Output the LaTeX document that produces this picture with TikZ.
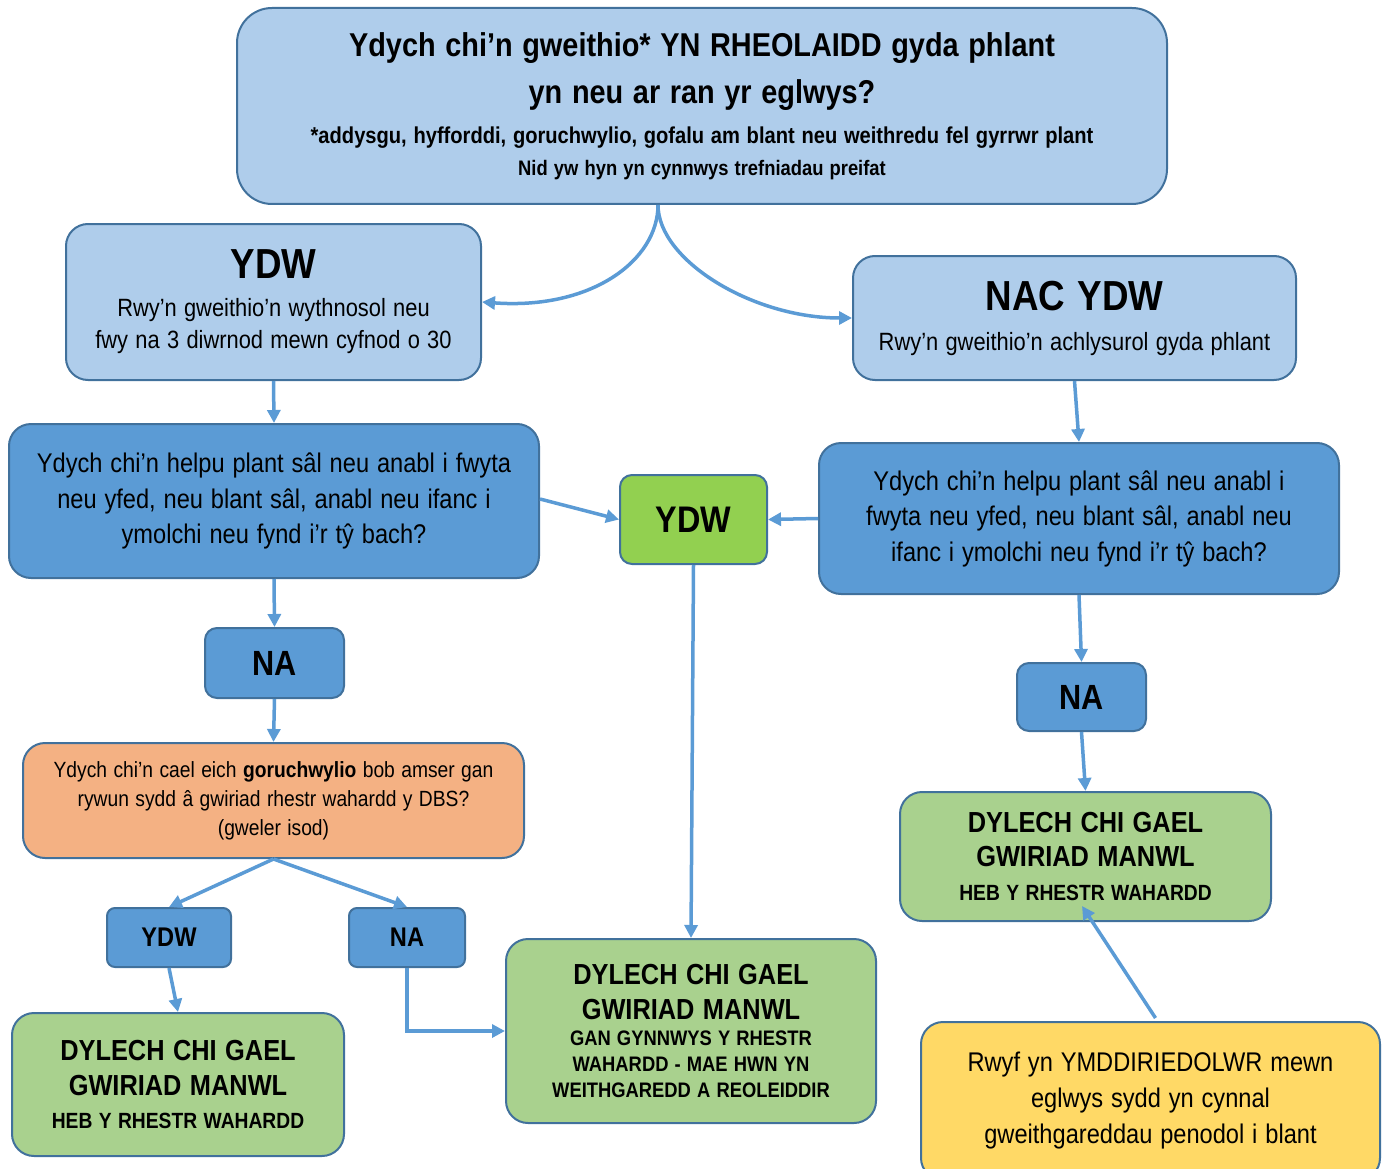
\documentclass[tikz,border=0pt]{standalone}
\usepackage{fontspec}
\setmainfont{Liberation Sans}[FakeStretch=0.875, WordSpace=1.2]
\usepackage{xcolor}
\usetikzlibrary{arrows.meta}
\definecolor{edgeblue}{HTML}{41719C}
\definecolor{paleblue}{HTML}{AFCDEB}
\definecolor{midblue}{HTML}{5B9BD5}
\definecolor{limegreen}{HTML}{92D050}
\definecolor{sagegreen}{HTML}{A9D18E}
\definecolor{peach}{HTML}{F4B183}
\definecolor{sunyellow}{HTML}{FFD966}
\newcommand{\setfs}[2]{\fontsize{#1}{#2}\selectfont}

\begin{document}
\begin{tikzpicture}[x=1pt, y=-1pt, every node/.style={draw=edgeblue, line width=2pt, rounded corners=22pt, inner sep=0pt, align=flush center, text=black},
  arr/.style={draw=midblue, line width=3.5pt, -{Triangle[length=13pt,width=13pt]}}]
  \useasboundingbox (0,0) rectangle (1386,1169);
  \node[fill=paleblue, rounded corners=35pt, minimum width=930pt, minimum height=196pt, text width=910pt] (top) at (702,106)
    {{\setfs{33}{47}\bfseries Ydych chi’n gweithio* YN RHEOLAIDD gyda phlant\\ yn neu ar ran yr eglwys?\par}
     {\setfs{23}{40}\bfseries *addysgu, hyfforddi, goruchwylio, gofalu am blant neu weithredu fel gyrrwr plant\par}
     {\setfs{21}{32}\bfseries Nid yw hyn yn cynnwys trefniadau preifat\par}};
  \node[fill=paleblue, minimum width=415pt, minimum height=156pt, text width=405pt] (ydw1) at (273.5,302)
    {{\setfs{42}{44}\bfseries YDW\par}\vspace{6pt}{\setfs{25}{32}Rwy’n gweithio’n wythnosol neu\\ fwy na 3 diwrnod mewn cyfnod o 30\par}};
  \node[fill=paleblue, minimum width=443pt, minimum height=124pt, text width=435pt] (nacydw) at (1074.5,318)
    {{\setfs{42}{44}\bfseries NAC YDW\par}{\setfs{25}{40}Rwy’n gweithio’n achlysurol gyda phlant\par}};
  \node[fill=midblue, minimum width=530pt, minimum height=154pt, text width=520pt, font=\setfs{27}{35.5}] (q1) at (274,501)
    {Ydych chi’n helpu plant sâl neu anabl i fwyta\\ neu yfed, neu blant sâl, anabl neu ifanc i\\ ymolchi neu fynd i’r tŷ bach?};
  \node[fill=limegreen, rounded corners=12pt, minimum width=147pt, minimum height=89pt, font=\setfs{37}{40}\bfseries] (ydwg) at (693.5,519.5)
    {YDW};
  \node[fill=midblue, minimum width=520pt, minimum height=151pt, text width=510pt, font=\setfs{27}{35.5}] (q2) at (1079,518.5)
    {Ydych chi’n helpu plant sâl neu anabl i\\ fwyta neu yfed, neu blant sâl, anabl neu\\ ifanc i ymolchi neu fynd i’r tŷ bach?};
  \node[fill=midblue, rounded corners=12pt, minimum width=139pt, minimum height=70pt, font=\setfs{35}{38}\bfseries] (na1) at (274.5,663)
    {NA};
  \node[fill=midblue, rounded corners=12pt, minimum width=129pt, minimum height=68pt, font=\setfs{35}{38}\bfseries] (na2) at (1081.5,697)
    {NA};
  \node[fill=peach, minimum width=501pt, minimum height=115pt, text width=490pt, font=\setfs{22}{29}] (qsuper) at (273.5,800.5)
    {Ydych chi’n cael eich \textbf{goruchwylio} bob amser gan\\ rywun sydd â gwiriad rhestr wahardd y DBS?\\ (gweler isod)};
  \node[fill=midblue, rounded corners=8pt, minimum width=124pt, minimum height=59pt, font=\setfs{27}{30}\bfseries] (ydws) at (169,937.5)
    {YDW};
  \node[fill=midblue, rounded corners=8pt, minimum width=116pt, minimum height=59pt, font=\setfs{27}{30}\bfseries] (nas) at (407,937.5)
    {NA};
  \node[fill=sagegreen, minimum width=332pt, minimum height=143pt, text width=325pt] (gleft) at (178,1084.5)
    {{\setfs{29}{35}\bfseries DYLECH CHI GAEL\\ GWIRIAD MANWL\par}{\setfs{22}{33}\bfseries HEB Y RHESTR WAHARDD\par}};
  \node[fill=sagegreen, minimum width=370pt, minimum height=184pt, text width=362pt] (gmid) at (691,1031)
    {{\setfs{29}{35}\bfseries DYLECH CHI GAEL\\ GWIRIAD MANWL\par}{\setfs{21}{26}\bfseries GAN GYNNWYS Y RHESTR\\ WAHARDD - MAE HWN YN\\ WEITHGAREDD A REOLEIDDIR\par}};
  \node[fill=sagegreen, minimum width=371pt, minimum height=129pt, text width=362pt] (gright) at (1085.5,856.5)
    {{\setfs{29}{34}\bfseries DYLECH CHI GAEL\\ GWIRIAD MANWL\par}{\setfs{22}{34}\bfseries HEB Y RHESTR WAHARDD\par}};
  \node[fill=sunyellow, minimum width=459pt, minimum height=158pt, text width=450pt, font=\setfs{27}{36}] (trustee) at (1150.5,1101)
    {Rwyf yn YMDDIRIEDOLWR mewn\\ eglwys sydd yn cynnal\\ gweithgareddau penodol i blant};
  \coordinate (gin) at (1082,906);
  \draw[arr] ([xshift=-44pt]top.south) .. controls +(0,55) and +(110,8) .. (ydw1.east);
  \draw[arr] ([xshift=-44pt]top.south) .. controls +(0,55) and +(-100,0) .. (nacydw.west);
  \draw[arr] (ydw1.south) -- (q1.north);
  \draw[arr] ([yshift=2pt]q1.east) -- (ydwg.west);
  \draw[arr] (q2.west) -- (ydwg.east);
  \draw[arr] (nacydw.south) -- (q2.north);
  \draw[arr] (q2.south) -- (na2.north);
  \draw[arr] (q1.south) -- (na1.north);
  \draw[arr] (na1.south) -- (qsuper.north);
  \draw[arr] (qsuper.south) -- (ydws.north);
  \draw[arr] (qsuper.south) -- (nas.north);
  \draw[arr] (ydws.south) -- (gleft.north);
  \draw[arr] (nas.south) |- (gmid.west);
  \draw[arr] (ydwg.south) -- (gmid.north);
  \draw[arr] (na2.south) -- (gright.north);
  \draw[arr] ([xshift=5pt,yshift=3pt]trustee.north) -- (gin);
\end{tikzpicture}
\end{document}
